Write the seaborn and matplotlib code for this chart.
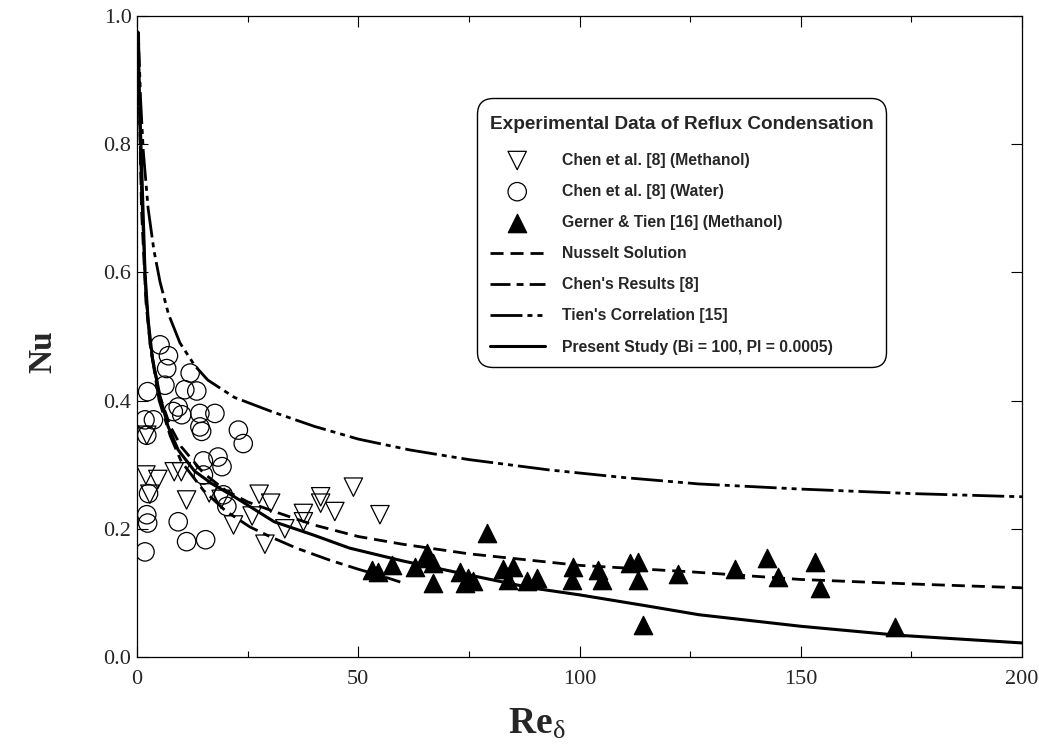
import matplotlib
matplotlib.use("Agg")
import matplotlib.pyplot as plt
from matplotlib.ticker import MultipleLocator, FormatStrFormatter
from matplotlib.font_manager import FontProperties
import seaborn as sns

# Chen et al. [8], methanol (open down-triangles)
methanol_re = [2.2, 2.0, 4.7, 8.4, 10.0, 2.9, 11.2, 16.3, 19.0, 21.8, 26.0, 27.6,
               30.2, 28.9, 33.4, 37.6, 37.6, 41.5, 41.5, 44.7, 48.9, 54.9]
methanol_nu = [0.346, 0.284, 0.277, 0.289, 0.289, 0.254, 0.245, 0.256, 0.246, 0.206, 0.220, 0.254,
               0.240, 0.176, 0.200, 0.224, 0.211, 0.250, 0.240, 0.227, 0.265, 0.222]

# Chen et al. [8], water (open circles)
water_re = [5.2, 7.1, 6.7, 12.0, 6.3, 2.4, 10.8, 13.5, 9.3, 8.2, 10.1, 14.2, 17.6,
            1.8, 3.7, 14.2, 14.6, 2.2, 22.9, 24.0, 15.0, 18.3, 19.2, 15.0, 19.5,
            20.3, 2.6, 2.2, 2.4, 9.3, 11.2, 15.5, 1.8]
water_nu = [0.487, 0.470, 0.450, 0.443, 0.424, 0.414, 0.417, 0.415, 0.390, 0.383, 0.378, 0.380, 0.380,
            0.370, 0.370, 0.359, 0.352, 0.346, 0.354, 0.333, 0.306, 0.312, 0.297, 0.284, 0.253,
            0.235, 0.255, 0.222, 0.209, 0.211, 0.180, 0.183, 0.164]

# Gerner & Tien [16], methanol (filled up-triangles)
gerner_re = [53.0, 54.5, 57.6, 62.8, 65.5, 65.8, 67.0, 67.0, 73.0, 74.9, 76.0, 74.1,
             79.0, 82.8, 85.0, 83.9, 88.1, 90.3, 98.6, 98.2, 104.2, 105.0, 111.4, 113.3,
             113.3, 114.4, 122.3, 135.1, 142.3, 144.9, 153.2, 154.3, 171.3]
gerner_nu = [0.136, 0.133, 0.143, 0.141, 0.162, 0.154, 0.146, 0.115, 0.133, 0.123, 0.118, 0.115,
             0.193, 0.138, 0.141, 0.120, 0.118, 0.123, 0.141, 0.120, 0.136, 0.120, 0.146, 0.149,
             0.120, 0.050, 0.130, 0.138, 0.154, 0.125, 0.149, 0.107, 0.047]

# Nusselt solution
nusselt_re = [0.35, 0.5, 1, 2, 3, 5, 7.5, 10, 15, 20, 25, 31, 40, 50, 60, 75,
              100, 125, 150, 175, 200]
nusselt_nu = [0.975, 0.87, 0.70, 0.555, 0.485, 0.41, 0.36, 0.328, 0.287, 0.26, 0.242, 0.227,
              0.206, 0.188, 0.176, 0.161, 0.143, 0.133, 0.121, 0.114, 0.108]

# Chen's results [8]
chen_re = [0.3, 0.6, 1, 2, 3, 5, 7.5, 10, 15, 20, 25.5, 30, 36, 43.6, 50, 55, 59.5]
chen_nu = [0.96, 0.84, 0.73, 0.565, 0.485, 0.40, 0.345, 0.305, 0.26, 0.228, 0.203, 0.188,
           0.17, 0.151, 0.137, 0.127, 0.117]

# Tien's correlation [15]
tien_re = [0.3, 0.8, 1.4, 2.5, 3.8, 5.2, 7.1, 9.7, 13, 16, 22, 30.4, 40, 50, 61.7, 75,
           93, 110, 127, 150, 175, 200]
tien_nu = [0.97, 0.87, 0.79, 0.70, 0.635, 0.585, 0.535, 0.49, 0.455, 0.432, 0.405, 0.383,
           0.36, 0.34, 0.323, 0.308, 0.292, 0.28, 0.27, 0.262, 0.255, 0.25]

# Present study (Bi = 100, Pl = 0.0005)
present_re = [0.2, 0.5, 0.9, 1.8, 2.5, 3.5, 5.2, 7.0, 9.3, 13, 17, 22, 31, 40, 48, 60,
              75, 89, 100, 115, 127, 150, 172, 200]
present_nu = [0.975, 0.88, 0.796, 0.60, 0.526, 0.465, 0.406, 0.36, 0.323, 0.29, 0.27, 0.25,
              0.211, 0.19, 0.17, 0.15, 0.128, 0.108, 0.097, 0.08, 0.066, 0.048, 0.034, 0.022]

x_ticks = [0, 50, 100, 150, 200]
y_ticks = [0.0, 0.2, 0.4, 0.6, 0.8, 1.0]

legend_title = "Experimental Data of Reflux Condensation"
labels = ["Chen et al. [8] (Methanol)", "Chen et al. [8] (Water)",
          "Gerner & Tien [16] (Methanol)", "Nusselt Solution",
          "Chen's Results [8]", "Tien's Correlation [15]",
          "Present Study (Bi = 100, Pl = 0.0005)"]

sns.set_style("ticks")
plt.rcParams["font.family"] = ["Liberation Sans", "DejaVu Sans"]
plt.rcParams["mathtext.fontset"] = "custom"
plt.rcParams["mathtext.rm"] = "Liberation Serif"
plt.rcParams["mathtext.bf"] = "Liberation Serif:bold"
plt.rcParams["mathtext.it"] = "Liberation Serif:italic"

fig, ax = plt.subplots(figsize=(10.39, 7.54), dpi=100)
fig.subplots_adjust(left=0.1319, right=0.9836, bottom=0.1286, top=0.9788)

msize = 175
sns.scatterplot(x=methanol_re, y=methanol_nu, marker="v", s=msize, facecolors="none",
                edgecolor="black", linewidth=0.9, label=labels[0], ax=ax, zorder=3)
sns.scatterplot(x=water_re, y=water_nu, marker="o", s=msize, facecolors="none",
                edgecolor="black", linewidth=0.9, label=labels[1], ax=ax, zorder=3)
sns.scatterplot(x=gerner_re, y=gerner_nu, marker="^", s=msize, color="black",
                edgecolor="black", linewidth=0.9, label=labels[2], ax=ax, zorder=3)

lw = 2.0
sns.lineplot(x=nusselt_re, y=nusselt_nu, color="black", linewidth=lw,
             linestyle=(0, (4.7, 2.5)), estimator=None, sort=False,
             label=labels[3], ax=ax)
sns.lineplot(x=chen_re, y=chen_nu, color="black", linewidth=lw,
             linestyle=(0, (7.2, 2.2, 2.5, 2.2)), estimator=None, sort=False,
             label=labels[4], ax=ax)
sns.lineplot(x=tien_re, y=tien_nu, color="black", linewidth=lw,
             linestyle=(0, (11.5, 1.8, 1.8, 1.8, 1.8, 1.8)), estimator=None, sort=False,
             label=labels[5], ax=ax)
sns.lineplot(x=present_re, y=present_nu, color="black", linewidth=lw + 0.2,
             linestyle="-", estimator=None, sort=False,
             label=labels[6], ax=ax)

ax.set_xlim(0, 200)
ax.set_ylim(0, 1.0)
ax.set_xticks(x_ticks)
ax.set_yticks(y_ticks)
ax.xaxis.set_minor_locator(MultipleLocator(25))
ax.yaxis.set_major_formatter(FormatStrFormatter("%.1f"))
ax.xaxis.set_major_formatter(FormatStrFormatter("%d"))
ax.tick_params(which="both", direction="in", top=True, right=True, color="black", width=0.8)
ax.tick_params(which="major", length=8)
ax.tick_params(which="minor", length=4)
ax.tick_params(axis="x", which="major", pad=9)
ax.tick_params(axis="y", which="major", pad=4)
for lab in ax.get_xticklabels() + ax.get_yticklabels():
    lab.set_fontfamily("Liberation Serif")
    lab.set_fontsize(16)
for sp in ax.spines.values():
    sp.set_linewidth(0.9)
    sp.set_color("black")

ax.set_xlabel(r"$\mathbf{Re}_{\mathrm{\delta}}$", fontsize=27)
ax.xaxis.set_label_coords(0.452, -0.076)
ax.set_ylabel("Nu", fontsize=24, fontweight="bold", fontfamily="Liberation Serif")
ax.yaxis.set_label_coords(-0.089, 0.476)

handles, hlabels = ax.get_legend_handles_labels()
lookup = dict(zip(hlabels, handles))
leg = ax.legend([lookup[l] for l in labels], labels, title=legend_title,
                loc="upper left", bbox_to_anchor=(0.384, 0.872), borderaxespad=0,
                frameon=True, fancybox=True, framealpha=1, edgecolor="black",
                prop=FontProperties(family="Liberation Sans", weight="bold", size=11.3),
                title_fontproperties=FontProperties(family="Liberation Sans", weight="bold", size=13.7),
                handlelength=3.5, handletextpad=1.1, labelspacing=1.03, borderpad=0.82,
                scatterpoints=1, alignment="left")
# extra room between the title and the entries; title nudged down inside the frame
leg._legend_box.sep = 17.8
leg._legend_title_box._text.set_y(-4.7)
leg.get_frame().set_boxstyle("round,pad=0,rounding_size=1.0")
leg.get_frame().set_linewidth(1.0)

fig.savefig("out.png", dpi=100)
